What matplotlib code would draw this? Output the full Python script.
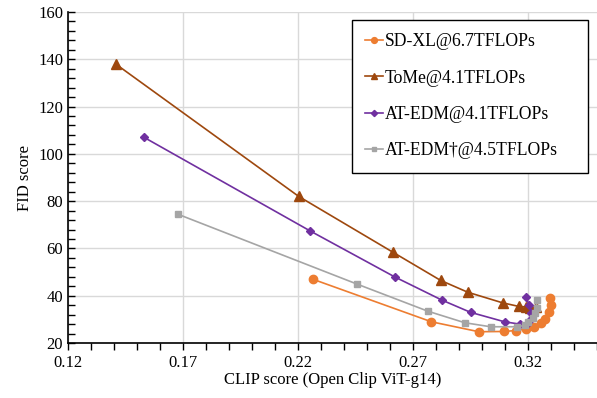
import matplotlib
matplotlib.use('Agg')
import matplotlib.pyplot as plt
from matplotlib.ticker import MultipleLocator

plt.rcParams['font.family'] = ['Liberation Serif', 'DejaVu Serif']

# data
sdxl_x = [0.2267, 0.278, 0.2986, 0.3095, 0.3146, 0.319, 0.3227, 0.3255, 0.3276, 0.3290, 0.3298, 0.3295]
sdxl_y = [46.9, 29.0, 24.8, 24.9, 25.3, 26.0, 27.0, 28.5, 30.3, 33.2, 36.0, 39.0]

tome_x = [0.1407, 0.2203, 0.2611, 0.282, 0.2938, 0.309, 0.316, 0.319, 0.321, 0.3235]
tome_y = [138.0, 82.0, 58.5, 46.5, 41.5, 37.0, 35.5, 35.3, 35.0, 35.3]

atedm_x = [0.153, 0.2251, 0.262, 0.2825, 0.295, 0.3098, 0.3165, 0.3197, 0.3215, 0.3215, 0.3205, 0.319]
atedm_y = [107.0, 67.5, 48.0, 38.2, 33.0, 29.0, 28.0, 28.2, 30.0, 32.7, 36.0, 39.6]

atedm2_x = [0.1677, 0.2455, 0.2764, 0.2925, 0.3037, 0.3152, 0.3186, 0.32, 0.3222, 0.323, 0.3237, 0.3237]
atedm2_y = [74.5, 45.0, 33.5, 28.6, 26.9, 26.9, 27.5, 29.0, 30.6, 32.7, 35.0, 38.2]

labels = ['SD-XL@6.7TFLOPs', 'ToMe@4.1TFLOPs', 'AT-EDM@4.1TFLOPs', 'AT-EDM\u2020@4.5TFLOPs']

fig = plt.figure(figsize=(5.97, 3.98), dpi=100)
ax = fig.add_axes([0.114, 0.138, 0.886, 0.832])

ax.plot(sdxl_x, sdxl_y, color='#ED7D31', marker='o', markersize=6, lw=1.2, label=labels[0], zorder=3)
ax.plot(tome_x, tome_y, color='#9E480E', marker='^', markersize=7, lw=1.2, label=labels[1], zorder=3)
ax.plot(atedm_x, atedm_y, color='#7030A0', marker='D', markersize=4.5, lw=1.2, label=labels[2], zorder=3)
ax.plot(atedm2_x, atedm2_y, color='#A5A5A5', marker='s', markersize=5, lw=1.2, label=labels[3], zorder=3)

ax.set_xlim(0.12, 0.35)
ax.set_ylim(20, 160)
ax.xaxis.set_minor_locator(MultipleLocator(0.01))
ax.yaxis.set_major_locator(MultipleLocator(20))
ax.yaxis.set_minor_locator(MultipleLocator(4))
ax.set_xticks([0.12, 0.17, 0.22, 0.27, 0.32])
ax.set_xticklabels(['0.12', '0.17', '0.22', '0.27', '0.32'])

ax.grid(True, which='major', color='#D9D9D9', lw=1, zorder=0)
ax.set_axisbelow(True)
for s in ['top', 'right']:
    ax.spines[s].set_visible(False)
for s in ['left', 'bottom']:
    ax.spines[s].set_color('black')
    ax.spines[s].set_linewidth(1.2)

ax.tick_params(axis='x', which='both', direction='out', length=5, width=1, labelsize=12)
ax.tick_params(axis='y', which='both', direction='in', length=5, width=1, labelsize=12)

ax.set_xlabel('CLIP score (Open Clip ViT-g14)', fontsize=12, labelpad=1)
ax.set_ylabel('FID score', fontsize=12, labelpad=4)

leg = ax.legend(loc='upper left', bbox_to_anchor=(0.537, 0.976, 0.446, 0.0), mode='expand',
                fontsize=12.7, frameon=True, fancybox=False, edgecolor='black', framealpha=1,
                handlelength=1.0, handletextpad=0.1, labelspacing=1.1,
                borderpad=0.75, borderaxespad=0, markerscale=0.7)
leg.get_frame().set_linewidth(1.0)
# shift entries right a bit like the reference box
leg._legend_box.align = 'left'

fig.savefig('out.png', dpi=100, facecolor='white')
